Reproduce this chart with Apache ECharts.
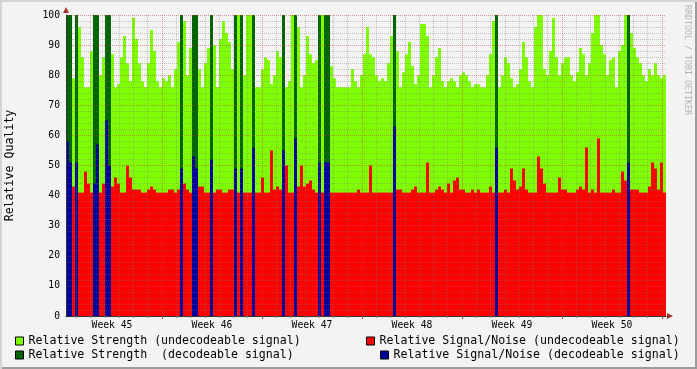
<!DOCTYPE html>
<html>
<head>
<meta charset="utf-8">
<title>Relative Quality</title>
<script src="https://cdn.jsdelivr.net/npm/echarts@6.0.0/dist/echarts.min.js"></script>
<style>
html, body { margin: 0; padding: 0; }
#chart { width: 697px; height: 369px; background: #f3f3f3;
         box-shadow: inset 2px 2px 0 #d4d4d4, inset -2px -2px 0 #9c9c9c; }
</style>
</head>
<body>
<div id="chart"></div>
<script type="text/javascript">
// one bin = 1/200 of the six weeks shown
var seriesNames = [
    'Relative Strength (undecodeable signal)',
    'Relative Signal/Noise (undecodeable signal)',
    'Relative Strength  (decodeable signal)',
    'Relative Signal/Noise (decodeable signal)'
];
var weekLabels = ['Week 45', 'Week 46', 'Week 47', 'Week 48', 'Week 49', 'Week 50'];

// undecodeable signal, null where the signal was decoded
var strength = [
    null,null,79,null,96,86,76,76,88,null,null,80,86,null,null,87,76,77,86,93,
    84,78,99,92,84,78,76,84,95,88,78,76,79,78,80,76,82,91,null,98,
    80,89,null,null,82,76,84,89,null,90,76,92,98,94,91,82,null,100,null,80,
    100,100,null,76,76,82,86,85,77,80,88,86,null,76,78,100,null,96,76,80,
    93,87,84,85,null,100,null,null,83,79,76,76,76,76,76,82,78,76,80,87,
    96,87,86,80,78,79,78,84,93,null,88,76,81,87,91,83,77,80,97,97,
    93,76,80,86,89,78,76,78,79,78,76,80,81,80,78,76,77,77,76,76,
    80,87,98,null,76,80,86,84,79,76,77,82,91,86,78,76,96,100,100,82,
    80,88,99,86,80,84,86,86,80,78,81,89,87,80,84,94,100,100,90,87,
    80,85,86,76,88,90,100,null,94,89,86,84,80,78,82,80,84,80,79,80
];
var snr = [
    null,null,43,null,41,41,48,44,41,null,null,41,44,null,null,43,46,44,41,41,
    50,46,42,42,42,41,41,42,43,42,41,41,41,41,42,42,41,42,null,44,
    42,41,null,null,43,43,41,41,null,41,42,42,41,41,42,42,null,41,null,41,
    41,41,null,41,41,46,41,41,55,42,43,42,null,50,41,41,null,43,50,43,
    44,45,42,41,null,41,null,null,41,41,41,41,41,41,41,41,41,42,41,41,
    41,50,41,41,41,41,41,41,41,null,42,42,41,41,41,42,43,41,41,41,
    51,41,41,42,43,42,41,44,41,45,46,42,42,41,41,42,41,42,41,41,
    41,43,41,null,41,41,42,41,49,45,42,43,49,42,41,41,41,53,49,44,
    41,41,41,41,46,42,42,41,41,41,42,43,42,56,41,42,41,59,41,41,
    41,41,42,41,41,48,45,null,42,42,42,41,41,41,43,51,49,42,51,41
];

// decoded signal: bin index, strength, signal/noise
var decodedBins = [0, 1, 3, 9, 10, 13, 14, 38, 42, 43, 48, 56, 58, 62, 72, 76, 84, 86, 87, 109, 143, 187];
var decodedStrength = [100,100,100,100,100,100,100,100,100,100,100,100,100,100,100,100,100,100,100,100,100,100];
var decodedSnr = [58, 51, 51, 44, 57, 65, 50, 49, 53, 49, 52, 49, 49, 56, 55, 59, 51, 51, 51, 63, 56, 51];

var bins = strength.map(function (v, i) { return i; });
var strengthDec = bins.map(function () { return null; });
var snrDec = bins.map(function () { return null; });
decodedBins.forEach(function (b, k) {
    strengthDec[b] = decodedStrength[k];
    snrDec[b] = decodedSnr[k];
});

// days from the start of week 45, the plot begins a little after it
var dayMin = 0.28, dayMax = 42.28;
var dayTicks = [], weekTicks = [], weekMids = [];
for (var d = 1; d <= 42; d++) {
    if (d % 7 === 0) weekTicks.push(d); else dayTicks.push(d);
}
weekLabels.forEach(function (w, i) { weekMids.push(i * 7 + 3.5); });

var mono = 'DejaVu Sans Mono';
var minorGrid = { color: 'rgba(120,120,120,0.4)', type: [1, 1], width: 1 };
var majorGrid = { color: 'rgba(200,60,60,0.5)', type: [1, 1], width: 1 };

var chart = echarts.init(document.getElementById('chart'));
function barSeries(name, data, color) {
    return {
        name: name,
        type: 'bar',
        xAxisIndex: 0,
        data: data,
        barWidth: '100%',
        barGap: '-100%',
        itemStyle: { color: color },
        emphasis: { disabled: true }
    };
}
function legendItem(name, left, top) {
    return {
        data: [name],
        left: left,
        top: top,
        padding: 0,
        icon: 'rect',
        itemWidth: 8,
        itemHeight: 8,
        itemStyle: { borderColor: '#000', borderWidth: 1 },
        textStyle: { fontFamily: mono, fontSize: 11.6, color: '#000' },
        selectedMode: false
    };
}
var option = {
    animation: false,
    backgroundColor: 'transparent',
    grid: { left: 66, top: 15, width: 600, height: 301, containLabel: false, outerBoundsMode: 'none' },
    legend: [
        legendItem(seriesNames[0], 15, 335),
        legendItem(seriesNames[1], 366, 335),
        legendItem(seriesNames[2], 15, 349),
        legendItem(seriesNames[3], 380, 349)
    ],
    xAxis: [
        { type: 'category', data: bins, show: false, boundaryGap: true, position: 'bottom' },
        {
            type: 'value', min: dayMin, max: dayMax, z: 5, position: 'bottom', offset: 0,
            axisLine: { show: true, lineStyle: { color: '#333', width: 1 } },
            axisTick: { show: true, length: 2, customValues: dayTicks, lineStyle: { color: '#888' } },
            axisLabel: { show: false },
            splitLine: { show: true, lineStyle: minorGrid }
        },
        {
            type: 'value', min: dayMin, max: dayMax, z: 6, position: 'bottom', offset: 0,
            axisLine: { show: false },
            axisTick: { show: true, length: 3, customValues: weekTicks, lineStyle: { color: '#b04040' } },
            axisLabel: {
                show: true, customValues: weekMids, margin: 4,
                fontFamily: mono, fontSize: 9.7, color: '#000',
                formatter: function (v) { return weekLabels[Math.floor(v / 7)]; }
            },
            splitLine: { show: true, lineStyle: majorGrid }
        }
    ],
    yAxis: {
        type: 'value', min: 0, max: 100, interval: 10, z: 5,
        name: 'Relative Quality',
        nameLocation: 'middle',
        nameGap: 50,
        nameTextStyle: { fontFamily: mono, fontSize: 11.6, color: '#000' },
        axisLine: { show: true, lineStyle: { color: '#333', width: 1 } },
        axisTick: { show: false },
        axisLabel: { fontFamily: mono, fontSize: 9.7, color: '#000', margin: 6 },
        splitLine: { show: true, lineStyle: majorGrid },
        minorTick: { show: false, splitNumber: 5 },
        minorSplitLine: { show: true, lineStyle: minorGrid }
    },
    graphic: [
        { type: 'polygon', shape: { points: [[63, 13], [69, 13], [66, 7]] }, style: { fill: '#a8302c' }, z: 10 },
        { type: 'polygon', shape: { points: [[667, 313], [667, 319], [673, 316]] }, style: { fill: '#a8302c' }, z: 10 },
        {
            type: 'text', x: 687, y: 5, rotation: -Math.PI / 2,
            style: { text: 'RRDTOOL / TOBI OETIKER', fontFamily: mono, fontSize: 8.3,
                     fill: '#b4b4b4', align: 'left', verticalAlign: 'middle' }
        }
    ],
    series: [
        barSeries(seriesNames[0], strength, '#7fff00'),
        barSeries(seriesNames[1], snr, '#ff0000'),
        barSeries(seriesNames[2], strengthDec, '#006400'),
        barSeries(seriesNames[3], snrDec, '#00009c')
    ]
};
chart.setOption(option);
</script>
</body>
</html>
